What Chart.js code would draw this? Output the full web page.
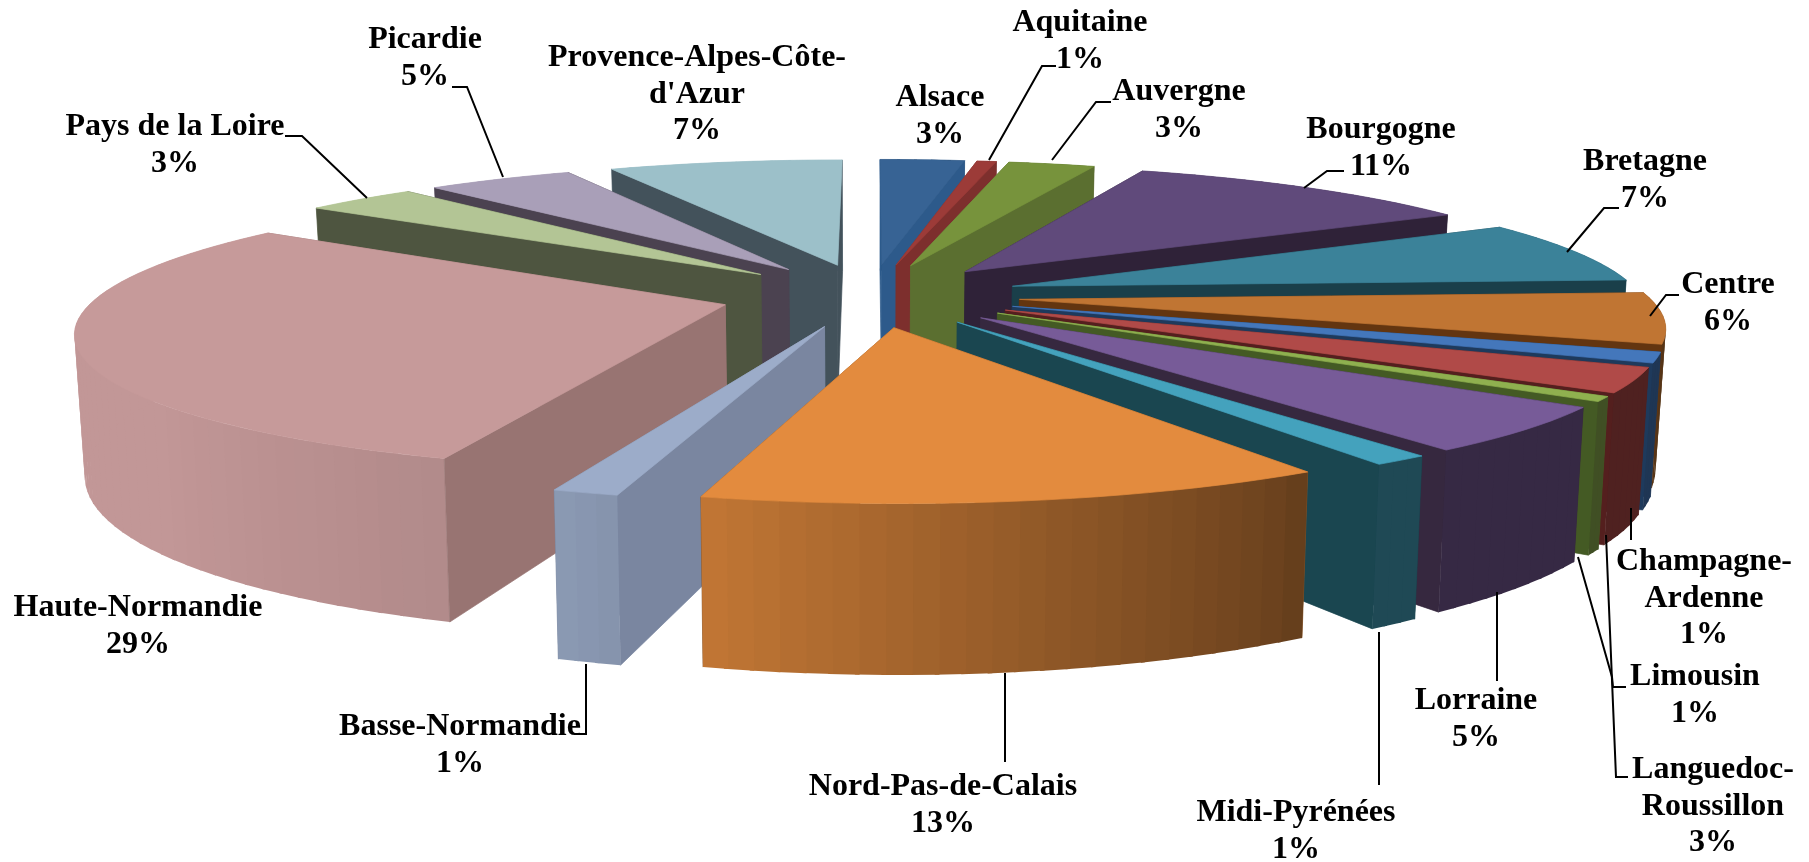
<!DOCTYPE html>
<html>
<head>
<meta charset="utf-8">
<style>
  html, body { margin: 0; padding: 0; background: #fff; overflow: hidden; }
  canvas { display: block; }
</style>
<script src="https://cdn.jsdelivr.net/npm/chart.js@4"></script>
</head>
<body>
<canvas id="chart" width="1809" height="862"></canvas>
<script>
const REGIONS = ['Alsace', 'Aquitaine', 'Auvergne', 'Bourgogne', 'Bretagne', 'Centre', 'Champagne-Ardenne',
  'Languedoc-Roussillon', 'Limousin', 'Lorraine', 'Midi-Pyrénées', 'Nord-Pas-de-Calais', 'Basse-Normandie',
  'Haute-Normandie', 'Pays de la Loire', 'Picardie', "Provence-Alpes-Côte-d'Azur"];
// the labels are rounded, the slices show the finer values
const SHARES = [2.6, 0.6, 2.67, 10.9, 7.4, 5.9, 1.2, 2.8, 0.56, 5.2, 1.2, 12.9, 1.36, 29.4, 3.44, 4.5, 7.2];
const LABEL_LINES = [['Alsace'], ['Aquitaine'], ['Auvergne'], ['Bourgogne'], ['Bretagne'], ['Centre'],
  ['Champagne-', 'Ardenne'], ['Languedoc-', 'Roussillon'], ['Limousin'], ['Lorraine'], ['Midi-Pyrénées'],
  ['Nord-Pas-de-Calais'], ['Basse-Normandie'], ['Haute-Normandie'], ['Pays de la Loire'], ['Picardie'],
  ['Provence-Alpes-Côte-', "d'Azur"]];

const TOP_COLORS = ['#376394', '#9c3b38', '#77933c', '#604a7b', '#3b8299', '#c07533', '#4477bb', '#b04a48',
  '#8fb04f', '#775b98', '#44a2bd', '#e38b3e', '#9cacc9', '#c69a9a', '#b3c595', '#a99fb8', '#9cc0c9'];
const WALL_COLORS = ['#2d5a8b', '#7d2f2d', '#5b6f30', '#2f2238', '#1a3f4a', '#633510', '#1e3a5c', '#541f1e',
  '#445a24', '#36283f', '#1a4650', '#8a5526', '#7a86a0', '#987472', '#4e5540', '#4b4250', '#43525b'];

// label centre x, first line centre y
const LABEL_AT = [[940, 98], [1080, 23], [1179, 92], [1381, 130], [1645, 162], [1728, 285], [1704, 562],
  [1713, 770], [1695, 677], [1476, 701], [1296, 813], [943, 787], [460, 727], [138, 608], [175, 127],
  [425, 40], [697, 58]];
const LEADERS = [
  [[1056, 66], [1042, 66], [989, 160]],
  [[1111, 102], [1096, 102], [1052, 160]],
  [[1344, 171], [1327, 171], [1304, 188]],
  [[1619, 208], [1604, 208], [1567, 252]],
  [[1679, 295], [1666, 295], [1650, 316]],
  [[1631, 540], [1631, 508]],
  [[1628, 777], [1616, 777], [1606, 535]],
  [[1626, 687], [1613, 687], [1612, 677], [1578, 557]],
  [[1497, 592], [1497, 681]],
  [[1379, 632], [1379, 785]],
  [[1005, 673], [1005, 762]],
  [[574, 734], [586, 734], [586, 664]],
  [[285, 136], [302, 136], [367, 198]],
  [[452, 87], [467, 87], [503, 177]]
];

const LAYOUT = { cx: 870, cy: 295, planeR: 628, explode: 150, squash: 0.2115, k: 0.000274, depth: 135, taper: 0.013 };

const project = (X, Y, drop) => {
  const w = 1 - LAYOUT.k * Y;
  return [
    LAYOUT.cx + X * (1 - LAYOUT.taper * (drop ? 1 : 0)) / w,
    LAYOUT.cy + (LAYOUT.squash * Y + (drop ? LAYOUT.depth : 0)) / w
  ];
};

// how much of the top colour an outer wall keeps, by angle clockwise from 12 o'clock
const outerShade = deg => {
  if (deg <= 150) return 0.45;
  if (deg <= 200) return 0.47 + (deg - 150) / 50 * 0.43;
  if (deg <= 230) return 0.9 + (deg - 200) / 30 * 0.08;
  return 0.98;
};

const shade = (hex, m) => {
  const n = parseInt(hex.slice(1), 16);
  return `rgb(${Math.round((n >> 16) * m)},${Math.round(((n >> 8) & 255) * m)},${Math.round((n & 255) * m)})`;
};

const poly = (ctx, pts, color, stroked) => {
  ctx.beginPath();
  pts.forEach((p, i) => (i ? ctx.lineTo(p[0], p[1]) : ctx.moveTo(p[0], p[1])));
  ctx.closePath();
  ctx.fillStyle = color;
  ctx.fill();
  if (stroked) {
    ctx.strokeStyle = color;
    ctx.lineWidth = 0.7;
    ctx.stroke();
  }
};

const drawSlice = (ctx, el, i) => {
  const a0 = el.startAngle + Math.PI / 2;
  const a1 = el.endAngle + Math.PI / 2;
  const mid = (a0 + a1) / 2;
  const ox = LAYOUT.explode * Math.sin(mid);
  const oy = -LAYOUT.explode * Math.cos(mid);
  const rim = a => [ox + LAYOUT.planeR * Math.sin(a), oy - LAYOUT.planeR * Math.cos(a)];
  const n = Math.max(2, Math.ceil((a1 - a0) * 180 / Math.PI / 2));
  const angles = [];
  for (let s = 0; s <= n; s++) angles.push(a0 + (a1 - a0) * s / n);

  const faces = [];
  [a0, a1].forEach(a => {
    const p = rim(a);
    faces.push({
      y: (p[1] + oy) / 2,
      draw: () => poly(ctx, [project(ox, oy, false), project(p[0], p[1], false), project(p[0], p[1], true), project(ox, oy, true)], WALL_COLORS[i], true)
    });
  });
  faces.push({
    y: rim(mid)[1],
    draw: () => {
      // each band runs a little under the next one so no seam shows
      for (let s = 0; s < n; s++) {
        const p = rim(angles[s]);
        const q = rim(Math.min(a1, angles[s + 1] + 0.006));
        const deg = (angles[s] + angles[s + 1]) / 2 * 180 / Math.PI;
        poly(ctx, [project(p[0], p[1], false), project(q[0], q[1], false), project(q[0], q[1], true), project(p[0], p[1], true)], shade(TOP_COLORS[i], outerShade(deg)), false);
      }
    }
  });
  faces.sort((f, g) => f.y - g.y).forEach(f => f.draw());

  const top = [project(ox, oy, false)];
  angles.forEach(a => {
    const p = rim(a);
    top.push(project(p[0], p[1], false));
  });
  poly(ctx, top, TOP_COLORS[i], true);
};

const perspectivePie = {
  id: 'perspectivePie',
  beforeDatasetsDraw(chart) {
    const ctx = chart.ctx;
    const arcs = chart.getDatasetMeta(0).data;
    const order = arcs.map((el, i) => i).sort((p, q) => {
      const yOf = el => -Math.cos((el.startAngle + el.endAngle) / 2 + Math.PI / 2);
      return yOf(arcs[p]) - yOf(arcs[q]);
    });
    ctx.save();
    order.forEach(i => drawSlice(ctx, arcs[i], i));
    ctx.restore();

    ctx.save();
    ctx.strokeStyle = '#000';
    ctx.lineWidth = 2;
    LEADERS.forEach(line => {
      ctx.beginPath();
      line.forEach((p, j) => (j ? ctx.lineTo(p[0], p[1]) : ctx.moveTo(p[0], p[1])));
      ctx.stroke();
    });
    ctx.fillStyle = '#000';
    ctx.font = 'bold 32px "Liberation Serif"';
    ctx.textAlign = 'center';
    ctx.textBaseline = 'middle';
    LABEL_LINES.forEach((lines, i) => {
      const text = lines.concat(Math.round(SHARES[i]) + '%');
      text.forEach((t, j) => ctx.fillText(t, LABEL_AT[i][0], LABEL_AT[i][1] + j * 36.5));
    });
    ctx.restore();
    return false;
  }
};

new Chart(document.getElementById('chart'), {
  type: 'pie',
  data: {
    labels: REGIONS,
    datasets: [{ data: SHARES, backgroundColor: TOP_COLORS, borderWidth: 0 }]
  },
  options: {
    responsive: false,
    animation: false,
    plugins: { legend: { display: false }, tooltip: { enabled: false } }
  },
  plugins: [perspectivePie]
});
</script>
</body>
</html>
